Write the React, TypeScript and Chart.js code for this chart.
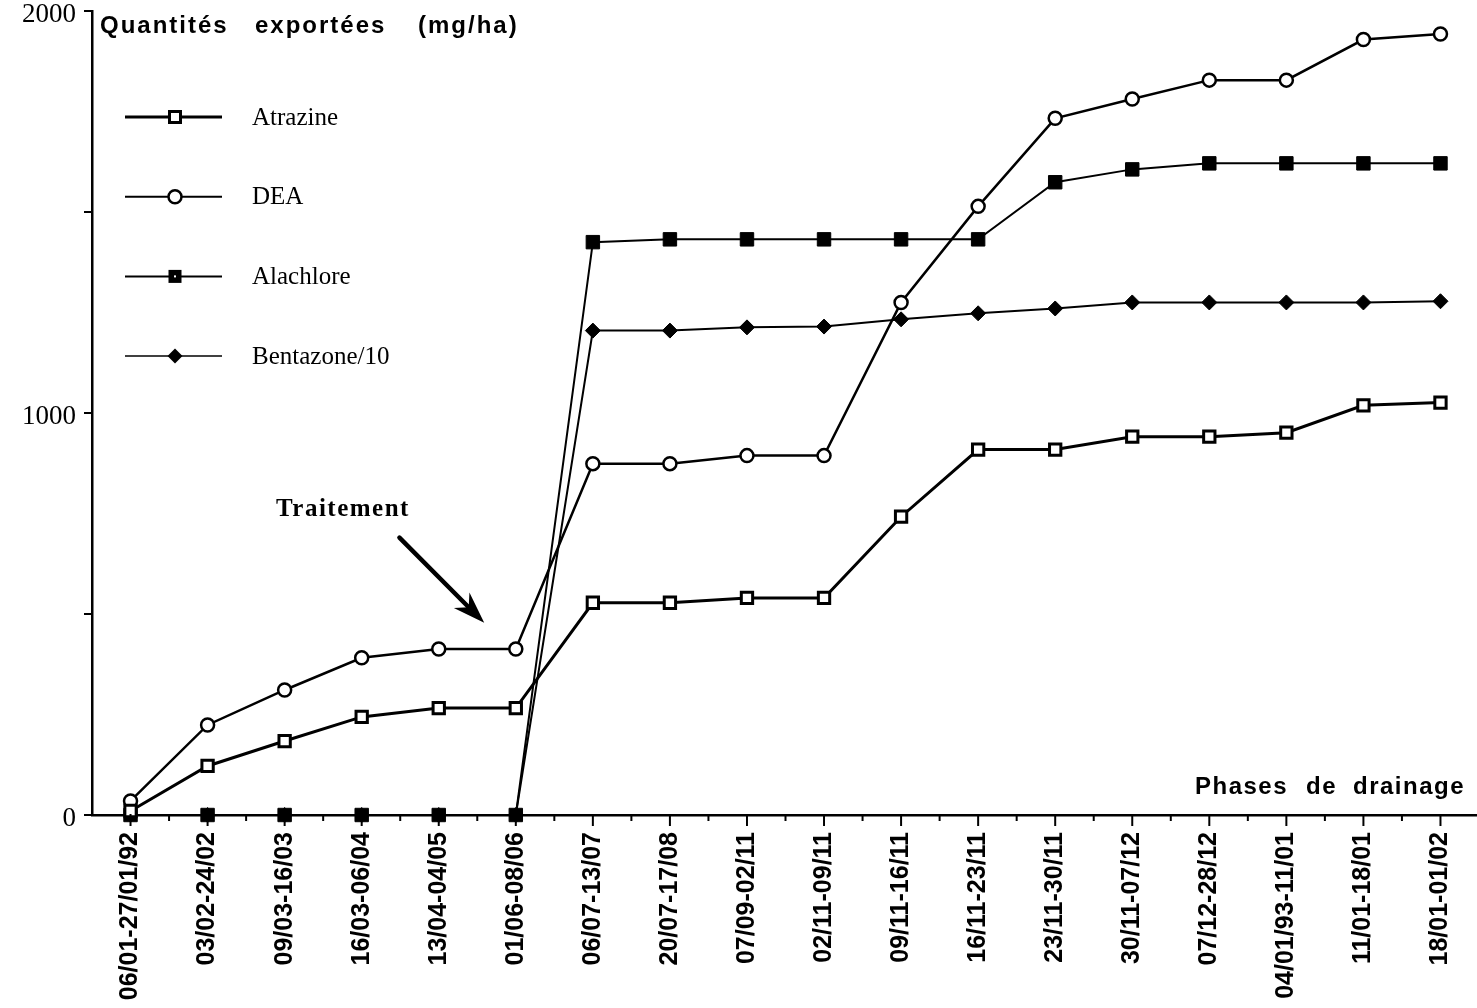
import React, { useEffect, useRef } from 'react';
import { Chart, registerables } from 'chart.js';

Chart.register(...registerables);

const categories = [
  '06/01-27/01/92', '03/02-24/02', '09/03-16/03', '16/03-06/04', '13/04-04/05', '01/06-08/06',
  '06/07-13/07', '20/07-17/08', '07/09-02/11', '02/11-09/11', '09/11-16/11', '16/11-23/11',
  '23/11-30/11', '30/11-07/12', '07/12-28/12', '04/01/93-11/01', '11/01-18/01', '18/01-01/02',
];
const atrazine = [10, 122, 184, 244, 266, 266, 528, 528, 540, 540, 742, 909, 909, 941, 941, 951, 1019, 1026];
const dea = [35, 224, 311, 391, 413, 413, 874, 874, 894, 894, 1275, 1514, 1733, 1781, 1828, 1828, 1929, 1943];
const alachlore = [0, 0, 0, 0, 0, 0, 1425, 1432, 1432, 1432, 1432, 1432, 1574, 1606, 1621, 1621, 1621, 1621];
const bentazone10 = [0, 0, 0, 0, 0, 0, 1205, 1205, 1213, 1215, 1233, 1248, 1260, 1275, 1275, 1275, 1275, 1278];
const yTickLabels = [0, 1000, 2000];
const seriesNames = ['Atrazine', 'DEA', 'Alachlore', 'Bentazone/10'];
const titleWords = ['Quantités', 'exportées', '(mg/ha)'];
const xTitleWords = ['Phases', 'de', 'drainage'];
const annotationText = 'Traitement';

function drawMarker(ctx: CanvasRenderingContext2D, style: string, cx: number, cy: number) {
  ctx.save();
  ctx.strokeStyle = '#000';
  ctx.fillStyle = '#000';
  if (style === 'openRect') {
    ctx.fillStyle = '#fff';
    ctx.lineWidth = 3;
    ctx.beginPath();
    ctx.rect(cx - 5.5, cy - 5.5, 11, 11);
    ctx.fill();
    ctx.stroke();
  } else if (style === 'circle') {
    ctx.fillStyle = '#fff';
    ctx.lineWidth = 2.5;
    ctx.beginPath();
    ctx.arc(cx, cy, 6.5, 0, Math.PI * 2);
    ctx.fill();
    ctx.stroke();
  } else if (style === 'rect') {
    ctx.fillRect(cx - 6.5, cy - 6.5, 13, 13);
    ctx.fillStyle = '#fff';
    ctx.fillRect(cx - 1, cy - 1, 2, 2);
  } else if (style === 'diamond') {
    ctx.beginPath();
    ctx.moveTo(cx, cy - 7.5);
    ctx.lineTo(cx + 7.5, cy);
    ctx.lineTo(cx, cy + 7.5);
    ctx.lineTo(cx - 7.5, cy);
    ctx.closePath();
    ctx.fill();
  }
  ctx.restore();
}

const overlayPlugin = {
  id: 'overlay',
  afterDraw(chart: any) {
    const { ctx, chartArea, scales } = chart;
    const xs = scales.x;
    const ys = scales.y;
    const bottom = chartArea.bottom;
    ctx.save();
    ctx.strokeStyle = '#000';
    ctx.fillStyle = '#000';

    // x-axis tick marks (major at categories, minor between)
    ctx.lineWidth = 2;
    for (let i = 0; i < categories.length; i++) {
      const px = xs.getPixelForValue(i);
      ctx.beginPath();
      ctx.moveTo(px, bottom - 1);
      ctx.lineTo(px, bottom + 11);
      ctx.stroke();
      const mx = xs.getPixelForValue(i + 0.5);
      ctx.beginPath();
      ctx.moveTo(mx, bottom);
      ctx.lineTo(mx, bottom + 6);
      ctx.stroke();
    }

    // Title (y axis)
    ctx.font = 'bold 24px "Liberation Sans"';
    (ctx as any).letterSpacing = '2px';
    ctx.textBaseline = 'alphabetic';
    ctx.textAlign = 'left';
    const tx = [chartArea.left + 8, chartArea.left + 163, chartArea.left + 326];
    titleWords.forEach((w, i) => ctx.fillText(w, tx[i], 33));

    // x axis title
    (ctx as any).letterSpacing = '1.5px';
    const px0 = [chartArea.right - 284, chartArea.right - 173, chartArea.right - 126];
    xTitleWords.forEach((w, i) => ctx.fillText(w, px0[i], 794));
    (ctx as any).letterSpacing = '0px';

    // Legend
    const styles = ['openRect', 'circle', 'rect', 'diamond'];
    const widths = [3, 2, 2, 1.5];
    ctx.font = '25px "Liberation Serif"';
    ctx.textBaseline = 'middle';
    seriesNames.forEach((name, i) => {
      const ly = 117 + i * 79.7;
      ctx.lineWidth = widths[i];
      ctx.beginPath();
      ctx.moveTo(125, ly);
      ctx.lineTo(222, ly);
      ctx.stroke();
      drawMarker(ctx, styles[i], 175, ly);
      ctx.fillText(name, 252, ly + 1);
    });

    // Traitement annotation
    ctx.font = 'bold 25px "Liberation Serif"';
    (ctx as any).letterSpacing = '1.5px';
    ctx.textBaseline = 'alphabetic';
    ctx.fillText(annotationText, 276, 516);
    (ctx as any).letterSpacing = '0px';

    const tipX = xs.getPixelForValue(4.59);
    const tipY = ys.getPixelForValue(478);
    const tailX = xs.getPixelForValue(3.49);
    const tailY = ys.getPixelForValue(690);
    const ang = Math.atan2(tipY - tailY, tipX - tailX);
    const c = Math.cos(ang);
    const s = Math.sin(ang);
    const headLen = 30;
    const headW = 11;
    const bx = tipX - headLen * c;
    const by = tipY - headLen * s;
    ctx.lineWidth = 4.5;
    ctx.lineCap = 'round';
    ctx.beginPath();
    ctx.moveTo(tailX, tailY);
    ctx.lineTo(bx + 8 * c, by + 8 * s);
    ctx.stroke();
    ctx.beginPath();
    ctx.moveTo(tipX, tipY);
    ctx.lineTo(bx - headW * s - 2 * c, by + headW * c - 2 * s);
    ctx.lineTo(bx + 8 * c, by + 8 * s);
    ctx.lineTo(bx + headW * s - 2 * c, by - headW * c - 2 * s);
    ctx.closePath();
    ctx.fill();

    ctx.restore();
  },
};

export default function App() {
  const canvasRef = useRef<HTMLCanvasElement | null>(null);

  useEffect(() => {
    if (!canvasRef.current) return;
    const chart = new Chart(canvasRef.current, {
      type: 'line',
      data: {
        labels: categories,
        datasets: [
          {
            label: seriesNames[0],
            data: atrazine,
            borderColor: '#000',
            borderWidth: 3,
            pointStyle: 'rect',
            pointRadius: 8,
            pointBorderWidth: 3,
            pointBackgroundColor: '#fff',
            pointBorderColor: '#000',
            tension: 0,
            clip: false,
          },
          {
            label: seriesNames[1],
            data: dea,
            borderColor: '#000',
            borderWidth: 2.5,
            pointStyle: 'circle',
            pointRadius: 6.5,
            pointBorderWidth: 2.5,
            pointBackgroundColor: '#fff',
            pointBorderColor: '#000',
            tension: 0,
            clip: false,
          },
          {
            label: seriesNames[2],
            data: alachlore,
            borderColor: '#000',
            borderWidth: 2,
            pointStyle: 'rect',
            pointRadius: 9.5,
            pointBorderWidth: 1,
            pointBackgroundColor: '#000',
            pointBorderColor: '#000',
            tension: 0,
            clip: false,
          },
          {
            label: seriesNames[3],
            data: bentazone10,
            borderColor: '#000',
            borderWidth: 2,
            pointStyle: 'rectRot',
            pointRadius: 7.5,
            pointBorderWidth: 1,
            pointBackgroundColor: '#000',
            pointBorderColor: '#000',
            tension: 0,
            clip: false,
          },
        ],
      },
      options: {
        animation: false,
        responsive: false,
        maintainAspectRatio: false,
        layout: { padding: { top: 11, left: 0, right: 1, bottom: 0 } },
        plugins: {
          legend: { display: false },
          tooltip: { enabled: false },
          title: { display: false },
        },
        scales: {
          x: {
            type: 'category',
            offset: true,
            grid: { display: false, drawTicks: false },
            border: { display: true, color: '#000', width: 2.5 },
            ticks: {
              autoSkip: false,
              maxRotation: 90,
              minRotation: 90,
              padding: 17,
              color: '#000',
              font: { family: '"Liberation Sans"', weight: 'bold', size: 25 },
            },
            afterFit: (s: any) => {
              s.height = 193;
              s.paddingLeft = 0;
              s.paddingRight = 0;
            },
          },
          y: {
            min: 0,
            max: 2000,
            ticks: {
              stepSize: 500,
              color: '#000',
              padding: 8,
              labelOffset: 4,
              font: { family: '"Liberation Serif"', size: 27 },
              callback: (v: any) => (yTickLabels.includes(Number(v)) ? String(v) : ''),
            },
            grid: {
              display: true,
              drawOnChartArea: false,
              drawTicks: true,
              tickLength: 8,
              color: '#000',
              lineWidth: 2,
            },
            border: { display: true, color: '#000', width: 2.5 },
            afterFit: (s: any) => {
              s.width = 92;
              s.paddingTop = 0;
              s.paddingBottom = 0;
            },
          },
        },
      },
      plugins: [overlayPlugin],
    } as any);
    return () => chart.destroy();
  }, []);

  return (
    <div
      style={{
        position: 'absolute',
        left: 0,
        top: 0,
        width: 1477,
        height: 1008,
        overflow: 'hidden',
        background: '#fff',
      }}
    >
      <canvas ref={canvasRef} width={1490} height={1008} style={{ display: 'block' }} />
    </div>
  );
}
